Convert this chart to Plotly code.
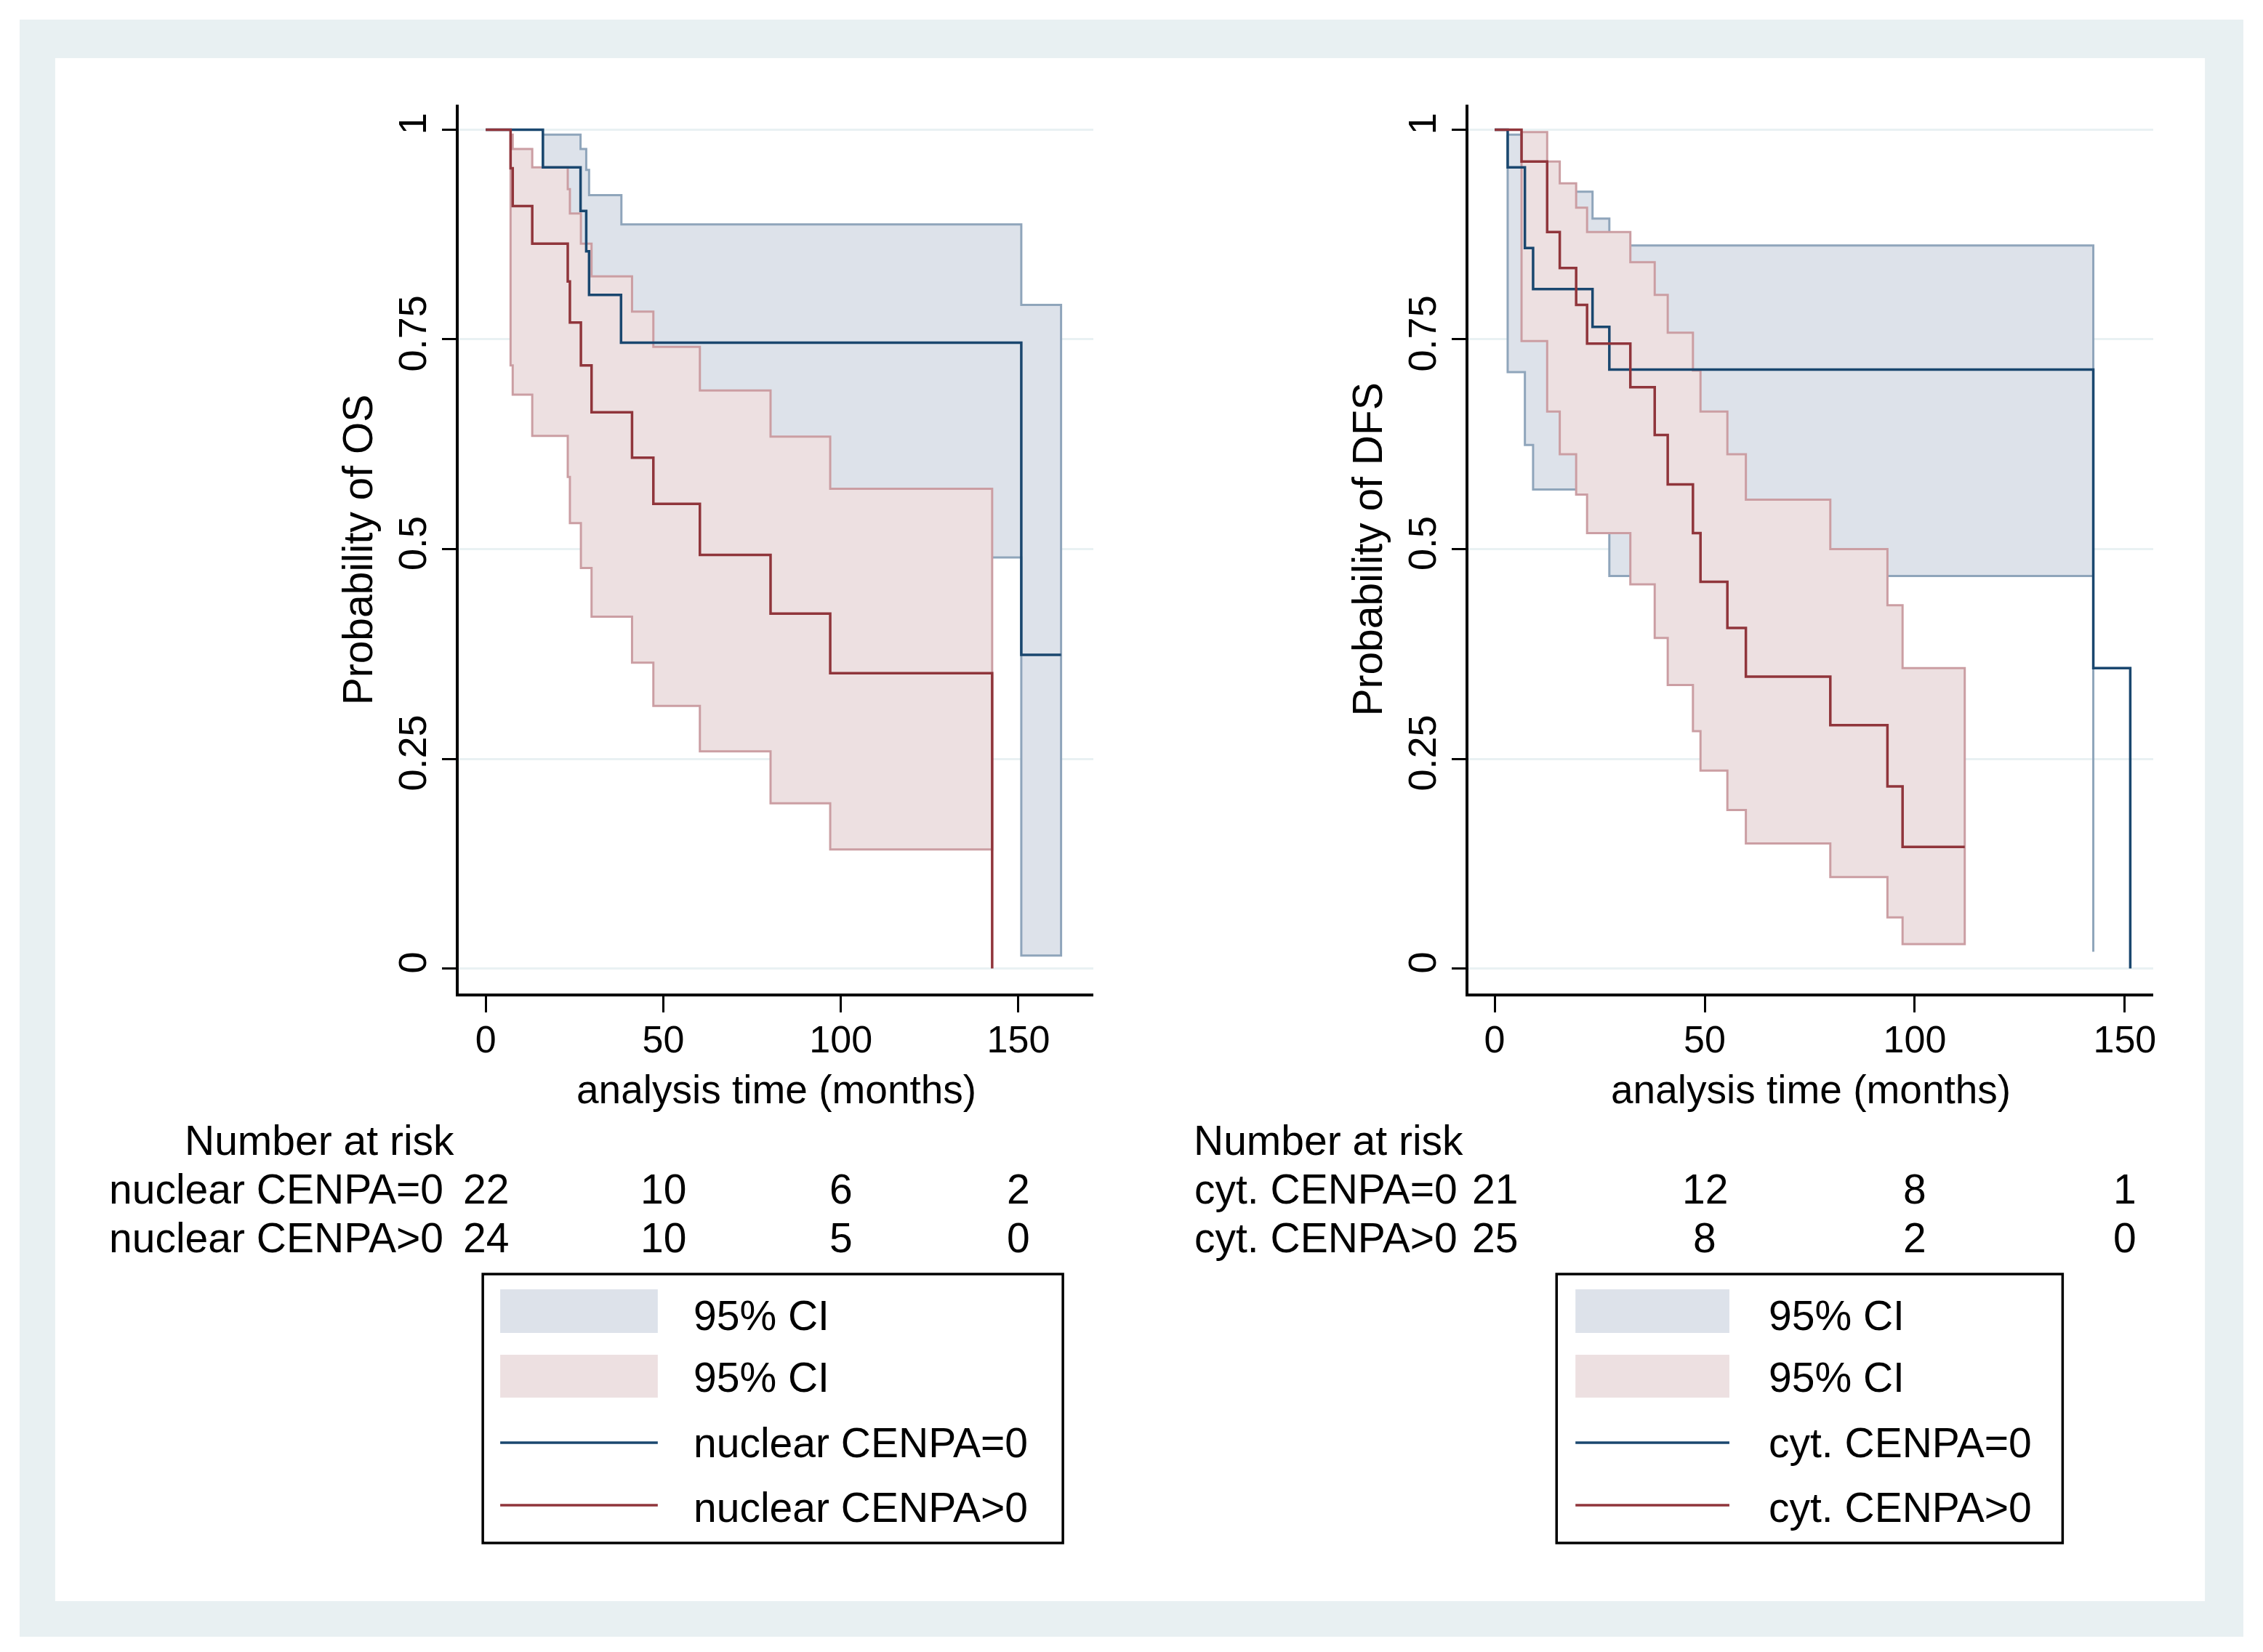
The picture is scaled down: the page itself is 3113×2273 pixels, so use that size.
import plotly.graph_objects as go

W, H = 3113, 2273
FONT = "Arial, Liberation Sans, sans-serif"

# ---------------- data: left panel (OS, nuclear CENPA) ----------------
os_neg_t = [0, 16.1, 26.7, 28.3, 29.1, 38.1, 150.8, 162.0]
os_neg_s = [1.0, 0.955, 0.903, 0.855, 0.803, 0.746, 0.374, 0.374]
os_pos_t = [0, 7.0, 7.6, 13.1, 23.1, 23.7, 26.8, 29.8, 41.2, 47.2, 60.3, 80.2, 97.0, 142.6]
os_pos_s = [1.0, 0.954, 0.909, 0.864, 0.819, 0.770, 0.719, 0.663, 0.609, 0.554, 0.493, 0.423, 0.352, 0.0]

os_neg_ci_t = [16.1, 26.7, 28.3, 29.1, 38.2, 150.8]
os_neg_ci_end = 162.0
os_neg_ci_hi = [0.994, 0.977, 0.952, 0.922, 0.887, 0.791]
os_neg_ci_lo = [0.72, 0.68, 0.62, 0.56, 0.49, 0.0155]

os_pos_ci_t = [7.0, 7.6, 13.1, 23.1, 23.7, 26.8, 29.8, 41.2, 47.2, 60.3, 80.2, 97.0]
os_pos_ci_end = 142.6
os_pos_ci_hi = [0.994, 0.977, 0.955, 0.929, 0.900, 0.864, 0.825, 0.783, 0.741, 0.689, 0.634, 0.572]
os_pos_ci_lo = [0.719, 0.684, 0.635, 0.586, 0.531, 0.4775, 0.4195, 0.3645, 0.313, 0.259, 0.197, 0.142]

# ---------------- data: right panel (DFS, cyt. CENPA) ----------------
dfs_neg_t = [0, 3.1, 7.2, 9.15, 23.3, 27.3, 142.5, 151.3]
dfs_neg_s = [1.0, 0.955, 0.859, 0.810, 0.765, 0.714, 0.358, 0.0]
dfs_pos_t = [0, 6.4, 12.5, 15.5, 19.4, 22.0, 32.3, 38.1, 41.2, 47.2, 49.0, 55.4, 59.8, 79.9, 93.5, 97.1, 111.9]
dfs_pos_s = [1.0, 0.962, 0.878, 0.835, 0.791, 0.745, 0.693, 0.636, 0.577, 0.519, 0.461, 0.406, 0.348, 0.290, 0.217, 0.145, 0.145]

dfs_neg_ci_t = [3.1, 7.2, 9.15, 23.3, 27.3, 142.5]
dfs_neg_ci_end = 142.5
dfs_neg_ci_hi = [0.994, 0.95, 0.926, 0.894, 0.862, 0.773]
dfs_neg_ci_lo = [0.711, 0.624, 0.571, 0.52, 0.468, 0.02]

dfs_pos_ci_t = [6.4, 12.5, 15.5, 19.4, 22.0, 32.3, 38.1, 41.2, 47.2, 49.0, 55.4, 59.8, 79.9, 93.5, 97.1]
dfs_pos_ci_end = 111.9
dfs_pos_ci_hi = [0.997, 0.962, 0.936, 0.907, 0.878, 0.842, 0.803, 0.758, 0.713, 0.664, 0.613, 0.559, 0.500, 0.433, 0.358]
dfs_pos_ci_lo = [0.748, 0.664, 0.613, 0.565, 0.519, 0.458, 0.394, 0.338, 0.283, 0.236, 0.189, 0.149, 0.109, 0.061, 0.029]

# ---------------- number at risk ----------------
risk_times = [0, 50, 100, 150]
os_risk_neg = [22, 10, 6, 2]
os_risk_pos = [24, 10, 5, 0]
dfs_risk_neg = [21, 12, 8, 1]
dfs_risk_pos = [25, 8, 2, 0]

x_ticks = [0, 50, 100, 150]
y_ticks = [0, 0.25, 0.5, 0.75, 1]
y_ticktext = ["0", "0.25", "0.5", "0.75", "1"]

left_labels = ["nuclear CENPA=0", "nuclear CENPA>0"]
right_labels = ["cyt. CENPA=0", "cyt. CENPA>0"]

NAVY = "#1a476f"
MAROON = "#90353b"
BLUE_FILL = "#dde2ea"
BLUE_EDGE = "#8fa5bb"
RED_FILL = "#ede0e1"
RED_EDGE = "#cb9ea3"
GRID = "#e9f1f3"
FRAME = "#e8f0f2"


def band_xy(t, end, hi, lo):
    bounds = list(t[1:]) + [end]
    xs, ys = [], []
    for a, b, v in zip(t, bounds, hi):
        xs += [a, b]
        ys += [v, v]
    for a, b, v in reversed(list(zip(t, bounds, lo))):
        xs += [b, a]
        ys += [v, v]
    xs.append(xs[0])
    ys.append(ys[0])
    return xs, ys


fig = go.Figure()


def add_panel(xa, ya, neg_ci, pos_ci, neg_line, pos_line):
    for (t, end, hi, lo), fill, edge in [(neg_ci, BLUE_FILL, BLUE_EDGE), (pos_ci, RED_FILL, RED_EDGE)]:
        bx, by = band_xy(t, end, hi, lo)
        fig.add_trace(go.Scatter(x=bx, y=by, mode="lines", fill="toself", fillcolor=fill,
                                 line=dict(color=edge, width=3), xaxis=xa, yaxis=ya,
                                 showlegend=False, hoverinfo="skip"))
    for (t, s), col in [(neg_line, NAVY), (pos_line, MAROON)]:
        fig.add_trace(go.Scatter(x=t, y=s, mode="lines", line=dict(color=col, width=3.5, shape="hv"),
                                 xaxis=xa, yaxis=ya, showlegend=False))


add_panel("x", "y",
          (os_neg_ci_t, os_neg_ci_end, os_neg_ci_hi, os_neg_ci_lo),
          (os_pos_ci_t, os_pos_ci_end, os_pos_ci_hi, os_pos_ci_lo),
          (os_neg_t, os_neg_s), (os_pos_t, os_pos_s))
add_panel("x2", "y2",
          (dfs_neg_ci_t, dfs_neg_ci_end, dfs_neg_ci_hi, dfs_neg_ci_lo),
          (dfs_pos_ci_t, dfs_pos_ci_end, dfs_pos_ci_hi, dfs_pos_ci_lo),
          (dfs_neg_t, dfs_neg_s), (dfs_pos_t, dfs_pos_s))


def px(x):
    return x / W


def py(y):
    return 1 - y / H


y_dom = [py(1366.5), py(144)]
xaxis_common = dict(tickvals=x_ticks, ticks="outside", ticklen=23, tickwidth=3, tickcolor="black",
                    showline=True, linewidth=3.5, linecolor="black", showgrid=False, zeroline=False,
                    tickfont=dict(family=FONT, size=52, color="black"), mirror=False,
                    ticklabelstandoff=-8)
yaxis_common = dict(tickvals=y_ticks, ticktext=y_ticktext, tickangle=-90, ticks="outside", ticklen=19,
                    tickwidth=3, tickcolor="black", showline=True, linewidth=3.5, linecolor="black",
                    showgrid=True, gridcolor=GRID, gridwidth=2.5, zeroline=False,
                    tickfont=dict(family=FONT, size=54, color="black"), range=[-0.0294, 1.0298],
                    domain=y_dom)

fig.update_layout(
    width=W, height=H, margin=dict(l=0, r=0, t=0, b=0),
    paper_bgcolor="white", plot_bgcolor="rgba(0,0,0,0)", showlegend=False,
    xaxis=dict(domain=[px(631.6), px(1506)], range=[-7.65, 171.1], anchor="y", **xaxis_common),
    yaxis=dict(anchor="x", **yaxis_common),
    xaxis2=dict(domain=[px(2022.3), px(2966)], range=[-6.29, 156.8], anchor="y2", **xaxis_common),
    yaxis2=dict(anchor="x2", **yaxis_common),
)

shapes = [
    dict(type="rect", xref="paper", yref="paper", x0=px(27), x1=px(3090), y0=py(2252), y1=py(27),
         fillcolor=FRAME, line=dict(width=0), layer="below"),
    dict(type="rect", xref="paper", yref="paper", x0=px(76), x1=px(3037), y0=py(2203), y1=py(80),
         fillcolor="white", line=dict(width=0), layer="below"),
]

annotations = []


def text(x, y, s, xref="paper", xanchor="center", angle=0, size=57):
    annotations.append(dict(x=x, y=y, xref=xref, yref="paper", text=s, showarrow=False,
                            xanchor=xanchor, yanchor="middle", textangle=angle,
                            font=dict(family=FONT, size=size, color="black")))


# axis titles
text(px(493), py(756), "Probability of OS", angle=-90)
text(px(1883), py(756), "Probability of DFS", angle=-90)
text(px(1069), py(1499), "analysis time (months)", size=55)
text(px(2494), py(1499), "analysis time (months)", size=55)

# number at risk tables
text(px(440), py(1569), "Number at risk")
text(px(1830), py(1569), "Number at risk")
for lab, row, yy in zip(left_labels, [os_risk_neg, os_risk_pos], [1636, 1703]):
    text(px(148), py(yy), lab, xanchor="left")
    for t, n in zip(risk_times, row):
        text(t, py(yy), str(n), xref="x")
for lab, row, yy in zip(right_labels, [dfs_risk_neg, dfs_risk_pos], [1636, 1703]):
    text(px(1643), py(yy), lab, xanchor="left")
    for t, n in zip(risk_times, row):
        text(t, py(yy), str(n), xref="x2")


# legends
def legend(bx0, bx1, sx0, sx1, tx, labels):
    shapes.append(dict(type="rect", xref="paper", yref="paper", x0=px(bx0), x1=px(bx1),
                       y0=py(2123), y1=py(1753), line=dict(color="black", width=3.5),
                       fillcolor="white"))
    shapes.append(dict(type="rect", xref="paper", yref="paper", x0=px(sx0), x1=px(sx1),
                       y0=py(1834), y1=py(1774), line=dict(width=0), fillcolor=BLUE_FILL))
    shapes.append(dict(type="rect", xref="paper", yref="paper", x0=px(sx0), x1=px(sx1),
                       y0=py(1923), y1=py(1864), line=dict(width=0), fillcolor=RED_FILL))
    shapes.append(dict(type="line", xref="paper", yref="paper", x0=px(sx0), x1=px(sx1),
                       y0=py(1985), y1=py(1985), line=dict(color=NAVY, width=3.5)))
    shapes.append(dict(type="line", xref="paper", yref="paper", x0=px(sx0), x1=px(sx1),
                       y0=py(2071), y1=py(2071), line=dict(color=MAROON, width=3.5)))
    for s, yy in zip(["95% CI", "95% CI"] + labels, [1810, 1895, 1985, 2074]):
        text(px(tx), py(yy), s, xanchor="left")


legend(665, 1464, 689, 906, 953, left_labels)
legend(2144, 2841, 2170, 2382, 2434, right_labels)

fig.update_layout(shapes=shapes, annotations=annotations)

fig.write_html("out.html", config={"displayModeBar": False},
               post_script="document.body.style.margin='0';document.body.style.overflow='hidden';")
